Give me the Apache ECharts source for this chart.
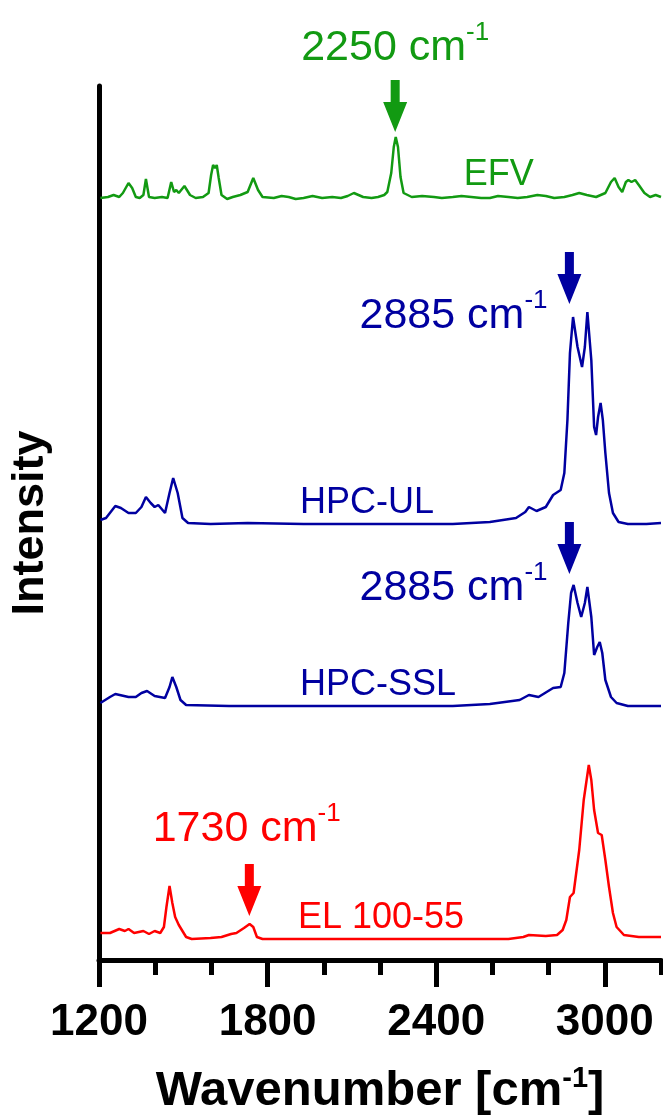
<!DOCTYPE html>
<html>
<head>
<meta charset="UTF-8">
<title>Raman spectra</title>
<script src="https://cdn.jsdelivr.net/npm/echarts@6/dist/echarts.min.js"></script>
<style>
  html, body { margin: 0; padding: 0; background: #fff; }
  #main { width: 663px; height: 1119px; }
</style>
</head>
<body>
<div id="main"></div>
<script type="text/javascript">
// spectra: [wavenumber, offset intensity]
var efv = [
  [1205,762],[1232,763],[1252,765],[1272,763],[1285,767],[1305,777],[1318,772],[1331,763],[1345,762],
  [1358,765],[1367,781],[1378,763],[1398,762],[1424,763],[1444,762],[1457,778],[1467,768],[1475,770],
  [1484,767],[1504,774],[1524,765],[1544,762],[1570,763],[1590,767],[1599,785],[1606,795],[1613,792],
  [1619,795],[1626,782],[1636,765],[1656,761],[1676,763],[1703,765],[1729,768],[1749,782],[1766,770],
  [1782,763],[1822,762],[1850,764],[1875,763],[1900,761],[1928,762],[1960,764],[1994,762],[2030,763],
  [2061,762],[2085,764],[2107,767],[2140,763],[2170,762],[2193,763],[2215,765],[2226,768],[2240,787],
  [2249,813],[2256,823],[2264,813],[2273,783],[2284,767],[2313,763],[2350,764],[2392,763],[2420,762],
  [2459,763],[2490,764],[2525,763],[2560,762],[2591,762],[2620,764],[2657,763],[2690,762],[2724,763],
  [2760,765],[2790,764],[2820,762],[2856,763],[2885,765],[2909,767],[2936,765],[2969,763],[3002,767],
  [3022,778],[3035,782],[3049,773],[3062,768],[3075,778],[3084,780],[3095,778],[3108,780],[3121,775],
  [3141,767],[3161,763],[3181,765],[3200,763]
];
var hpcUl = [
  [1205,440],[1225,442],[1258,454],[1278,452],[1305,447],[1331,447],[1351,453],[1367,463],[1384,457],
  [1398,453],[1411,455],[1435,447],[1451,467],[1464,482],[1480,467],[1497,442],[1517,437],[1597,436],
  [1729,437],[1928,436],[2193,436],[2459,436],[2591,438],[2684,442],[2717,448],[2730,453],[2757,449],
  [2790,453],[2816,465],[2843,470],[2856,487],[2867,540],[2876,607],[2887,643],[2903,613],[2919,593],
  [2929,613],[2938,648],[2952,600],[2962,533],[2969,525],[2976,543],[2985,557],[2993,540],[3002,507],
  [3015,467],[3029,447],[3049,438],[3082,436],[3148,436],[3200,437]
];
var hpcSsl = [
  [1205,257],[1239,263],[1258,266],[1305,263],[1331,263],[1351,267],[1371,269],[1398,264],[1435,262],
  [1451,273],[1461,283],[1475,273],[1490,260],[1510,255],[1663,254],[1928,254],[2193,254],[2459,254],
  [2591,256],[2697,260],[2730,265],[2764,263],[2816,272],[2843,273],[2856,287],[2870,337],[2880,367],
  [2889,375],[2903,357],[2916,343],[2929,357],[2938,373],[2952,343],[2962,305],[2973,313],[2982,318],
  [2991,307],[3002,280],[3022,263],[3042,257],[3082,254],[3200,254]
];
var el10055 = [
  [1205,27],[1239,27],[1272,31],[1292,29],[1305,31],[1325,27],[1358,29],[1378,26],[1398,29],[1418,27],
  [1431,33],[1440,53],[1451,74],[1461,57],[1471,43],[1484,35],[1510,23],[1530,21],[1597,22],[1636,23],
  [1670,26],[1689,27],[1716,32],[1736,36],[1749,33],[1762,23],[1782,21],[1928,21],[2193,21],[2459,21],
  [2657,21],[2710,23],[2730,25],[2790,24],[2830,25],[2850,30],[2863,40],[2876,63],[2889,67],[2909,110],
  [2925,160],[2943,195],[2952,180],[2962,150],[2976,127],[2989,125],[3002,100],[3015,73],[3029,47],
  [3042,33],[3068,25],[3121,23],[3200,23]
];

var seriesNames = ['EFV', 'HPC-UL', 'HPC-SSL', 'EL 100-55'];
var seriesColors = ['#129a12', '#0000a0', '#0000a0', '#ff0000'];
var seriesData = [efv, hpcUl, hpcSsl, el10055];

// peak annotations in data coords: arrow centre, wavenumber text (left/middle), spectrum name
var arrowPos = [[2254, 854], [2874, 682], [2874, 412], [1735, 70]];
var peakText = ['2250', '2885', '2885', '1730'];
// null = text sits above its arrow (outside the plot area)
var peakTextPos = [null, [2127, 644], [2127, 372], [1391, 131]];
var nameTextPos = [[2498, 785], [1915, 457], [1915, 275], [1908, 42]];

var xMin = 1200, xMax = 3200, xMajorMax = 3000;
var gridLeft = 99, gridRight = 2, gridTop = 86, gridBottom = 159;
var plotWidth = 663 - gridLeft - gridRight;
var fontFam = '"Liberation Sans", Arial, sans-serif';

var myChart = echarts.init(document.getElementById('main'));

function peakRich(c) {
  return {
    a: { fontSize: 43, lineHeight: 56, color: c, fontFamily: fontFam },
    b: { fontSize: 26, lineHeight: 26, color: c, fontFamily: fontFam, verticalAlign: 'top' }
  };
}

var series = seriesData.map(function (d, i) {
  var c = seriesColors[i];
  var arrow = {
    coord: arrowPos[i],
    symbol: 'path://M7.5,0 L16.5,0 L16.5,22 L24,22 L12,52 L0,22 L7.5,22 Z',
    symbolSize: [24, 52],
    itemStyle: { color: c },
    label: { show: false }
  };
  var marks = [arrow];
  if (peakTextPos[i]) {
    marks.push({
      coord: peakTextPos[i],
      symbol: 'rect',
      symbolSize: 1,
      itemStyle: { color: 'transparent' },
      label: {
        show: true,
        position: 'inside',
        align: 'left',
        verticalAlign: 'middle',
        formatter: '{a|' + peakText[i] + ' cm}{b|-1}',
        rich: peakRich(c)
      }
    });
  } else {
    arrow.label = {
      show: true,
      position: 'top',
      distance: 4,
      formatter: '{a|' + peakText[i] + ' cm}{b|-1}',
      rich: peakRich(c)
    };
  }
  marks.push({
    coord: nameTextPos[i],
    symbol: 'rect',
    symbolSize: 1,
    itemStyle: { color: 'transparent' },
    label: {
      show: true,
      position: 'inside',
      align: 'left',
      verticalAlign: 'middle',
      formatter: seriesNames[i],
      fontSize: 36,
      color: c,
      fontFamily: fontFam
    }
  });
  return {
    name: seriesNames[i],
    type: 'line',
    xAxisIndex: 0,
    yAxisIndex: 0,
    data: d,
    showSymbol: false,
    smooth: false,
    lineStyle: { color: c, width: 2.5 },
    itemStyle: { color: c },
    silent: true,
    markPoint: { silent: true, animation: false, data: marks }
  };
});

var option = {
  animation: false,
  backgroundColor: '#ffffff',
  grid: [
    { left: gridLeft, right: gridRight, top: gridTop, bottom: gridBottom, outerBoundsMode: 'none' },
    // second grid only carries the major ticks 1200..3000
    { left: gridLeft, width: plotWidth * (xMajorMax - xMin) / (xMax - xMin), top: gridTop, bottom: gridBottom, outerBoundsMode: 'none' }
  ],
  xAxis: [
    {
      type: 'value', gridIndex: 0, min: xMin, max: xMax, interval: 200,
      splitLine: { show: false },
      axisLine: { show: true, onZero: false, lineStyle: { color: '#000', width: 5 } },
      axisTick: { show: true, length: 15, lineStyle: { color: '#000', width: 5 } },
      axisLabel: { show: false },
      name: '{a|Wavenumber [cm}{b|-1}{a|]}',
      nameLocation: 'middle',
      nameGap: 104,
      nameTextStyle: {
        rich: {
          a: { fontSize: 49, fontWeight: 'bold', lineHeight: 55, color: '#000', fontFamily: fontFam },
          b: { fontSize: 29, fontWeight: 'bold', lineHeight: 29, color: '#000', fontFamily: fontFam, verticalAlign: 'top' }
        }
      }
    },
    {
      type: 'value', gridIndex: 1, min: xMin, max: xMajorMax, interval: 600,
      splitLine: { show: false },
      axisLine: { show: false, onZero: false },
      axisTick: { show: true, length: 27, lineStyle: { color: '#000', width: 5 } },
      axisLabel: {
        show: true, margin: 41, fontSize: 44, fontWeight: 'bold', color: '#000', fontFamily: fontFam,
        formatter: function (v) { return String(v); }
      }
    }
  ],
  yAxis: [
    {
      type: 'value', gridIndex: 0, min: 0, max: 874,
      splitLine: { show: false },
      axisLine: { show: true, onZero: false, lineStyle: { color: '#000', width: 5 } },
      axisTick: { show: false },
      axisLabel: { show: false },
      name: 'Intensity',
      nameLocation: 'middle',
      nameRotate: 90,
      nameGap: 46,
      nameTextStyle: { fontSize: 45, fontWeight: 'bold', color: '#000', fontFamily: fontFam }
    },
    {
      type: 'value', gridIndex: 1, min: 0, max: 874, show: false
    }
  ],
  series: series
};

myChart.setOption(option);
</script>
</body>
</html>
